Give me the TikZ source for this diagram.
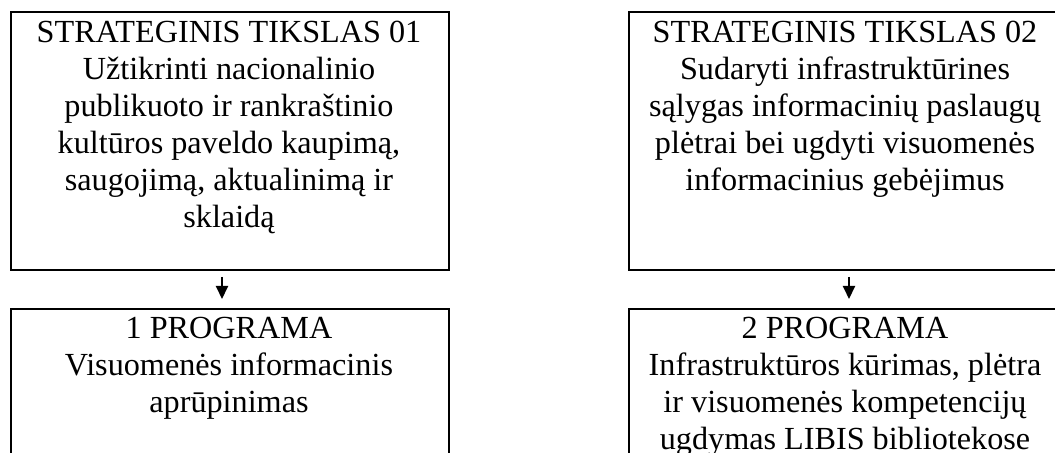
\documentclass[tikz,border=0pt]{standalone}
\usepackage{fontspec}
\setmainfont{Liberation Serif}
\usepackage{tikz}
\usetikzlibrary{shapes,arrows.meta}

\begin{document}
\begin{tikzpicture}[x=0.5pt, y=-0.5pt]
				\tikzstyle{box}=[draw, line width=1pt, shape=rectangle, inner sep=0pt];
				\tikzstyle{txt}=[align=center, inner sep=0pt, anchor=north, font=\fontsize{16.1}{18.5}\selectfont];
				\tikzstyle{arr}=[line width=1pt, -{Triangle[length=6.5pt, width=6pt]}];
				\clip (0,0) rectangle (1055,453);
				\useasboundingbox (0,0) rectangle (1055,453);
				\fill[white] (0,0) rectangle (1055,453);
				% strateginiai tikslai
				\node [box, minimum width=219pt, minimum height=129pt] (g1) at (230,141) {};
				\node [box, minimum width=216pt, minimum height=129pt] (g2) at (845,141) {};
				\node [txt] (t1) at (229,21) {STRATEGINIS TIKSLAS 01\\Užtikrinti nacionalinio\\publikuoto ir rankraštinio\\kultūros paveldo kaupimą,\\saugojimą, aktualinimą ir\\sklaidą};
				\node [txt] (t2) at (845,21) {STRATEGINIS TIKSLAS 02\\Sudaryti infrastruktūrines\\sąlygas informacinių paslaugų\\plėtrai bei ugdyti visuomenės\\informacinius gebėjimus};
				% programos
				\node [box, minimum width=219pt, minimum height=150pt] (p1) at (230,459) {};
				\node [box, minimum width=216pt, minimum height=150pt] (p2) at (845,459) {};
				\node [txt] (t3) at (229,317) {1 PROGRAMA\\Visuomenės informacinis\\aprūpinimas};
				\node [txt] (t4) at (845,317) {2 PROGRAMA\\Infrastruktūros kūrimas, plėtra\\ir visuomenės kompetencijų\\ugdymas LIBIS bibliotekose};
				% rodykles
				\coordinate (a1) at (222,277);
				\coordinate (b1) at (222,299);
				\coordinate (a2) at (849,277);
				\coordinate (b2) at (849,299);
				\draw[arr] (a1) -- (b1);
				\draw[arr] (a2) -- (b2);
			\end{tikzpicture}
\end{document}
